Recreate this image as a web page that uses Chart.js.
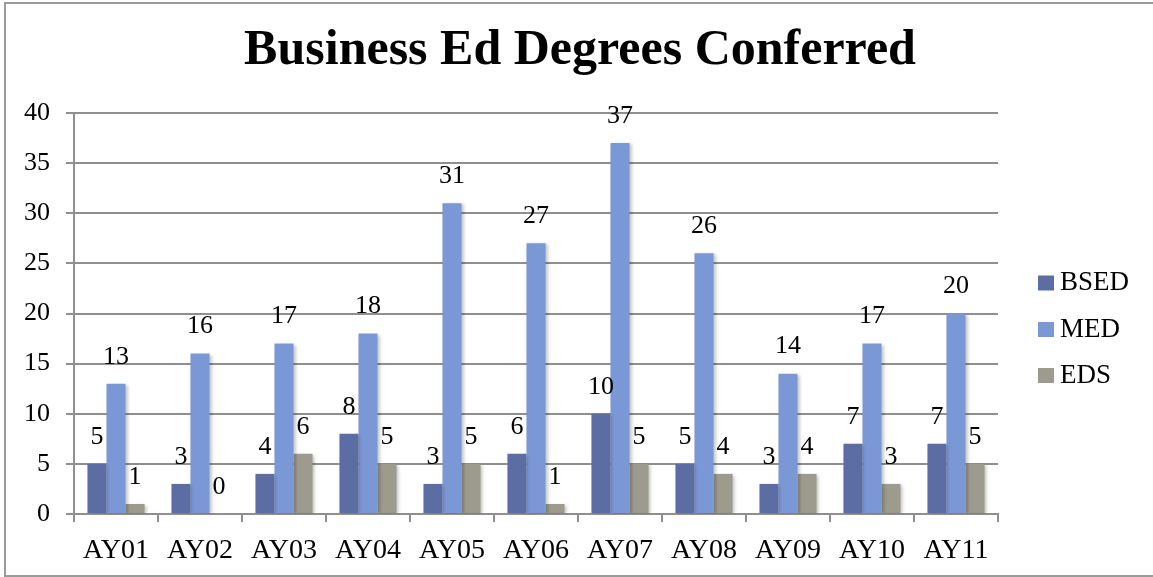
<!DOCTYPE html>
<html>
<head>
<meta charset="utf-8">
<script src="https://cdn.jsdelivr.net/npm/chart.js@4/dist/chart.umd.min.js"></script>
<style>
  html, body { margin: 0; padding: 0; background: #ffffff; }
  #wrap { width: 1153px; height: 577px; }
</style>
</head>
<body>
<div id="wrap"><canvas id="chart" width="1153" height="577"></canvas></div>
<script>
// Degrees conferred per academic year
const years = ['AY01', 'AY02', 'AY03', 'AY04', 'AY05', 'AY06', 'AY07', 'AY08', 'AY09', 'AY10', 'AY11'];
const bsed  = [5, 3, 4, 8, 3, 6, 10, 5, 3, 7, 7];
const med   = [13, 16, 17, 18, 31, 27, 37, 26, 14, 17, 20];
const eds   = [1, 0, 6, 5, 5, 1, 5, 4, 4, 3, 5];
const seriesNames = ['BSED', 'MED', 'EDS'];
const seriesColors = ['#5b6da3', '#7b98d6', '#9c9b8d'];
const titleText = 'Business Ed Degrees Conferred';

const FONT = '"Liberation Serif", serif';
const GRID = '#8f8f8f';

// White background, outer frame and title
const framePlugin = {
  id: 'frame',
  beforeDraw(chart) {
    const c = chart.ctx;
    c.save();
    c.fillStyle = '#ffffff';
    c.fillRect(0, 0, chart.width, chart.height);
    c.strokeStyle = '#9a9a9a';
    c.lineWidth = 2;
    c.strokeRect(5, 3, chart.width + 10, 573);
    c.font = 'bold 50px ' + FONT;
    c.fillStyle = '#000000';
    c.textAlign = 'center';
    c.textBaseline = 'middle';
    c.fillText(titleText, 580, 51);
    c.restore();
  }
};

// Soft shadow behind the bars
const shadowPlugin = {
  id: 'barShadow',
  beforeDatasetsDraw(chart) {
    const c = chart.ctx;
    c.save();
    c.shadowColor = 'rgba(0,0,0,0.22)';
    c.shadowBlur = 3;
    c.shadowOffsetX = 2;
    c.shadowOffsetY = 1;
  },
  afterDatasetsDraw(chart) {
    chart.ctx.restore();
  }
};

// Value labels above each bar
const valueLabels = {
  id: 'valueLabels',
  afterDatasetsDraw(chart) {
    const c = chart.ctx;
    c.save();
    c.font = '26px ' + FONT;
    c.fillStyle = '#000000';
    c.textAlign = 'center';
    c.textBaseline = 'middle';
    chart.data.datasets.forEach((ds, i) => {
      const meta = chart.getDatasetMeta(i);
      meta.data.forEach((bar, j) => {
        c.fillText(String(ds.data[j]), bar.x, bar.y - 27);
      });
    });
    c.restore();
  }
};

// Legend on the right
const sideLegend = {
  id: 'sideLegend',
  afterDraw(chart) {
    const c = chart.ctx;
    const rows = [283, 329.5, 375.5];
    c.save();
    c.font = '27px ' + FONT;
    c.textAlign = 'left';
    c.textBaseline = 'middle';
    seriesNames.forEach((name, i) => {
      c.fillStyle = seriesColors[i];
      c.fillRect(1038, rows[i] - 7.5, 16, 15);
      c.fillStyle = '#000000';
      c.fillText(name, 1060, rows[i]);
    });
    c.restore();
  }
};

new Chart(document.getElementById('chart'), {
  type: 'bar',
  data: {
    labels: years,
    datasets: [
      { label: seriesNames[0], data: bsed, backgroundColor: seriesColors[0] },
      { label: seriesNames[1], data: med,  backgroundColor: seriesColors[1] },
      { label: seriesNames[2], data: eds,  backgroundColor: seriesColors[2] }
    ]
  },
  options: {
    responsive: false,
    animation: false,
    devicePixelRatio: 1,
    layout: { padding: { left: 0, right: 155, top: 113, bottom: 0 } },
    datasets: { bar: { categoryPercentage: 0.68, barPercentage: 1.0, borderWidth: 0 } },
    plugins: {
      legend: { display: false },
      tooltip: { enabled: false },
      title: { display: false }
    },
    scales: {
      x: {
        grid: {
          display: true,
          drawOnChartArea: false,
          drawTicks: true,
          tickLength: 8,
          color: GRID,
          lineWidth: 2
        },
        border: { display: true, color: GRID, width: 2 },
        ticks: { color: '#000000', font: { family: FONT, size: 28 }, padding: 12, maxRotation: 0 },
        afterFit(scale) { scale.height = 63; }
      },
      y: {
        min: 0,
        max: 40,
        ticks: { stepSize: 5, color: '#000000', font: { family: FONT, size: 26 }, padding: 16 },
        grid: { color: GRID, lineWidth: 2, tickLength: 8, drawTicks: true },
        border: { display: true, color: GRID, width: 2 },
        afterFit(scale) { scale.width = 74; }
      }
    }
  },
  plugins: [framePlugin, shadowPlugin, valueLabels, sideLegend]
});
</script>
</body>
</html>
